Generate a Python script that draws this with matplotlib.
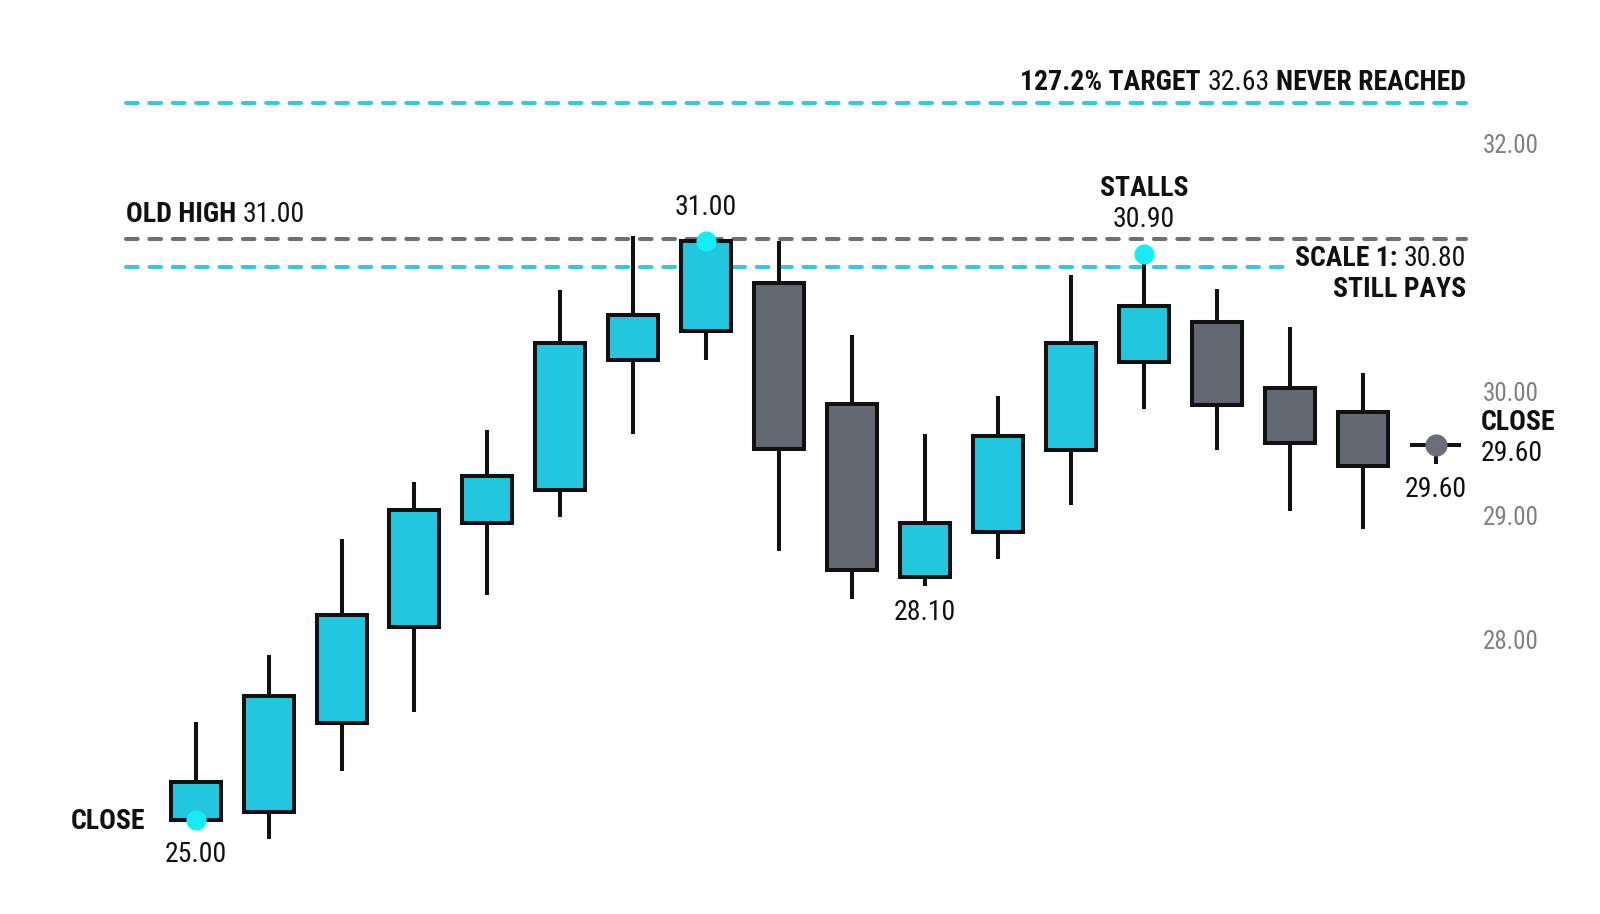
import matplotlib
matplotlib.use("Agg")
import matplotlib.pyplot as plt
from matplotlib.patches import Rectangle

# ---------------- data ----------------
opens  = [26.55, 26.61, 27.33, 28.10, 28.94, 29.21, 30.26, 30.49, 30.88, 29.90,
          28.51, 28.87, 29.53, 30.24, 30.56, 30.03, 29.84, 29.57]
highs  = [27.34, 27.88, 28.81, 29.27, 29.69, 30.82, 31.26, 31.22, 31.22, 30.46,
          29.66, 29.97, 30.94, 31.11, 30.83, 30.52, 30.15, 29.57]
lows   = [26.55, 26.39, 26.94, 27.42, 28.36, 28.99, 29.66, 30.26, 28.72, 28.33,
          28.43, 28.65, 29.09, 29.86, 29.53, 29.04, 28.89, 29.42]
closes = [26.85, 27.55, 28.20, 29.05, 29.32, 30.39, 30.62, 31.22, 29.54, 28.56,
          28.94, 29.64, 30.39, 30.69, 29.89, 29.59, 29.40, 29.57]

target_level = 32.33
old_high_level = 31.23
scale_level = 31.01

tick_values = [28.0, 29.0, 30.0, 32.0]

target_parts = [("127.2% TARGET", "bold"), ("32.63", "normal"), ("NEVER REACHED", "bold")]
old_high_parts = [("OLD HIGH", "bold"), ("31.00", "normal")]
scale_parts = [("SCALE 1:", "bold"), ("30.80", "normal")]
scale_note = "STILL PAYS"

first_close_text = "25.00"
peak_text = "31.00"
stall_title = "STALLS"
stall_text = "30.90"
low_text = "28.10"
last_close_text = "29.60"
close_word = "CLOSE"

# ---------------- style ----------------
BULL = "#23C6DF"
BEAR = "#646873"
EDGE = "#111111"
CYAN_LINE = "#36C8DB"
GRAY_LINE = "#6D7079"
DOT_CYAN = "#16ECF6"
DOT_GRAY = "#6B6E78"
TICK_COL = "#808080"
TXT = "#111111"
LW = 2.9
FS = 20
FAM = ["Roboto Condensed", "Liberation Sans Narrow", "Roboto", "DejaVu Sans"]
plt.rcParams["font.family"] = FAM

fig = plt.figure(figsize=(16, 9.14), dpi=100)
fig.patch.set_facecolor("white")
ax = fig.add_axes([0, 0, 1470 / 1600, 1])
ax.set_xlim(-2.683, 17.473)
ax.set_ylim(25.7887, 33.1597)
for s in ax.spines.values():
    s.set_visible(False)
ax.set_xticks([])
ax.yaxis.tick_right()
ax.set_yticks(tick_values)
ax.set_yticklabels([f"{v:.2f}" for v in tick_values])
ax.tick_params(axis="y", length=0, pad=9.0, labelsize=18, labelcolor=TICK_COL)

n = len(opens)
body_w = 0.686
line_start = -0.956
line_end = n - 1 + 0.42
scale_end = 14.94

# ---------------- level lines ----------------
def dashed(x0, x1, y, color):
    ln, = ax.plot([x0, x1], [y, y], color=color, lw=LW, zorder=1)
    ln.set_dashes((2.9, 2.9))
    ln.set_dash_capstyle("round")

dashed(line_start, line_end, target_level, CYAN_LINE)
dashed(line_start, line_end, old_high_level, GRAY_LINE)
dashed(line_start, scale_end, scale_level, CYAN_LINE)

# ---------------- candles ----------------
for i in range(n):
    o, h, l, c = opens[i], highs[i], lows[i], closes[i]
    col = BULL if c > o else BEAR
    ax.plot([i, i], [l, h], color=EDGE, lw=LW, zorder=2, solid_capstyle="butt")
    lo, hi = min(o, c), max(o, c)
    ax.add_patch(Rectangle((i - body_w / 2, lo), body_w, hi - lo,
                           facecolor=col, edgecolor=EDGE, lw=LW, zorder=3,
                           joinstyle="miter"))

# ---------------- markers ----------------
ax.plot([0], [opens[0]], "o", ms=14.5, color=DOT_CYAN, mec="none", zorder=5)
ax.plot([7], [highs[7]], "o", ms=14.5, color=DOT_CYAN, mec="none", zorder=5)
ax.plot([13], [highs[13]], "o", ms=14.5, color=DOT_CYAN, mec="none", zorder=5)
ax.plot([n - 1], [closes[n - 1]], "o", ms=16, color=DOT_GRAY, mec="none", zorder=5)

# ---------------- texts ----------------
GAP = 4.6

def rich(parts, xy, offset, ha):
    seq = parts if ha == "left" else parts[::-1]
    prev = None
    for s, w in seq:
        if prev is None:
            t = ax.annotate(s, xy=xy, xycoords="data", xytext=offset,
                            textcoords="offset points", ha=ha, va="center",
                            fontsize=FS, fontweight=w, color=TXT,
                            annotation_clip=False)
        elif ha == "left":
            t = ax.annotate(s, xy=(1, 0), xycoords=prev, xytext=(GAP, 0),
                            textcoords="offset points", ha="left", va="bottom",
                            fontsize=FS, fontweight=w, color=TXT)
        else:
            t = ax.annotate(s, xy=(0, 0), xycoords=prev, xytext=(-GAP, 0),
                            textcoords="offset points", ha="right", va="bottom",
                            fontsize=FS, fontweight=w, color=TXT)
        prev = t
    return prev

def label(s, xy, offset, ha="center", weight="normal"):
    ax.annotate(s, xy=xy, xycoords="data", xytext=offset, textcoords="offset points",
                ha=ha, va="center", fontsize=FS, fontweight=weight, color=TXT,
                annotation_clip=False)

rich(target_parts, (line_end, target_level), (0, 14.5), "right")
rich(old_high_parts, (line_start, old_high_level), (0, 18), "left")
rich(scale_parts, (line_end, scale_level), (0, 5.5), "right")
label(scale_note, (line_end, scale_level), (0, -16.8), ha="right", weight="bold")

label(close_word, (0, opens[0]), (-36.5, -1.5), ha="right", weight="bold")
label(first_close_text, (0, opens[0]), (0, -25))
label(peak_text, (7, highs[7]), (0, 24))
label(stall_title, (13, highs[13]), (0, 47), weight="bold")
label(stall_text, (13, highs[13]), (0, 24.7))
label(low_text, (10, lows[10]), (0, -19))
label(last_close_text, (n - 1, closes[n - 1]), (0, -31.7))
label(close_word, (n - 1, closes[n - 1]), (32.8, 16), ha="left", weight="bold")
label(last_close_text, (n - 1, closes[n - 1]), (32.8, -5.7), ha="left")

fig.savefig("out.png", dpi=100, facecolor="white")
